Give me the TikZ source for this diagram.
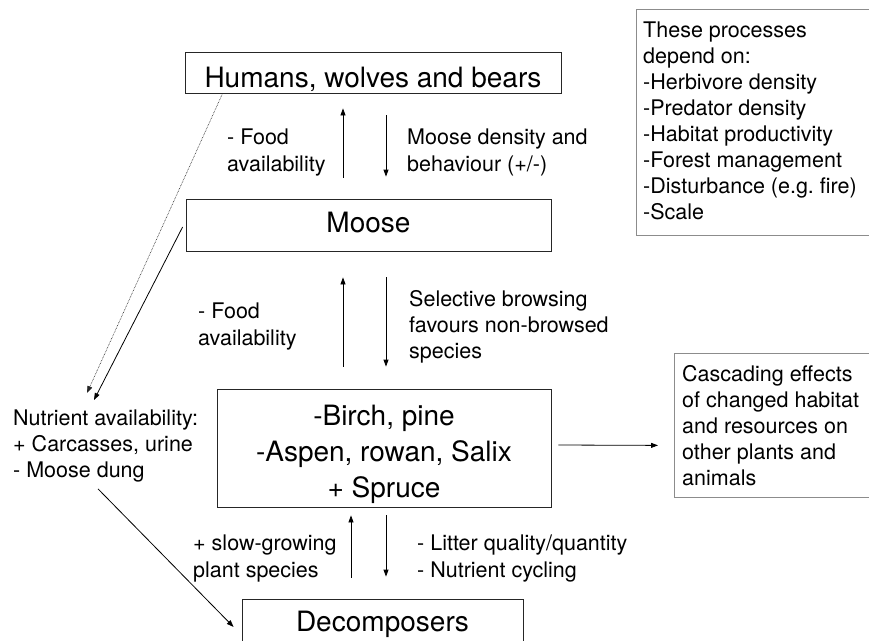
\documentclass[tikz,border=0pt]{standalone}
\usepackage{fontspec}
\setmainfont{TeX Gyre Heros}
\usetikzlibrary{arrows.meta}
\begin{document}
\begin{tikzpicture}[x=1pt,y=-1pt,
  mainbox/.style={draw=black!85, line width=0.8pt, inner sep=0pt, font=\fontsize{28}{36}\selectfont, align=center},
  grayframe/.style={draw=black!45, line width=0.8pt},
  lbl/.style={inner sep=0pt, font=\fontsize{21.5}{26.3}\selectfont, align=left, anchor=north west},
  boxtext/.style={lbl, font=\fontsize{21.5}{26}\selectfont},
  arr/.style={line width=0.8pt, -{Triangle[length=7pt,width=5pt]}},
  dotarr/.style={line width=0.6pt, draw=black!85, dash pattern=on 0.7pt off 0.9pt, -{Triangle[length=7pt,width=5pt]}},
]
\useasboundingbox (0,0) rectangle (869,640);
\clip (0,0) rectangle (869,640);

\node[mainbox, minimum width=376pt, minimum height=41pt, text height=29pt, text depth=0pt] (hum) at (373,72.5) {Humans, wolves and bears};
\node[mainbox, minimum width=365pt, minimum height=52pt, text height=14pt, text depth=0pt] (moose) at (368.5,225) {Moose};
\node[mainbox, minimum width=334pt, minimum height=118pt] (birch) at (384,448) {\rule{0pt}{34pt}-Birch, pine\\-Aspen, rowan, Salix\\+ Spruce};
\node[mainbox, minimum width=281pt, minimum height=48pt, text height=17pt, text depth=0pt] (dec) at (382.5,623) {Decomposers};

\draw[grayframe] (870,9) -- (636,9) -- (636,235) -- (870,235);
\node[boxtext] (proc) at (643,22) {These processes\\depend on:\\-Herbivore density\\-Predator density\\-Habitat productivity\\-Forest management\\-Disturbance (e.g.\ fire)\\-Scale};
\draw[grayframe] (870,353) -- (674,353) -- (674,497) -- (870,497);
\node[boxtext] (casc) at (682,365) {Cascading effects\\of changed habitat\\and resources on\\other plants and\\animals};

\node[lbl] (fa1) at (227,129) {- Food\\availability};
\node[lbl] (md) at (407,129) {Moose density and\\behaviour (+/-)};
\node[lbl] (fa2) at (198,303) {- Food\\availability};
\node[lbl] (sb) at (409,290) {Selective browsing\\favours non-browsed\\species};
\node[lbl] (nut) at (13,409.5) {Nutrient availability:\\+ Carcasses, urine\\- Moose dung};
\node[lbl] (sg) at (193,535) {+ slow-growing\\plant species};
\node[lbl] (lq) at (417,535) {- Litter quality/quantity\\- Nutrient cycling};

\draw[arr] ([shift={(-25.5,-21)}]moose.north) -- ([shift={(-30,15)}]hum.south);
\draw[arr] ([shift={(13,22)}]hum.south) -- ([shift={(17.5,-22)}]moose.north);
\draw[arr] ([shift={(-41,-22)}]birch.north) -- ([shift={(-25.5,26)}]moose.south);
\draw[arr] ([shift={(17.5,26)}]moose.south) -- ([shift={(2,-22)}]birch.north);
\draw[arr] ([shift={(-31.5,-21)}]dec.north) -- ([shift={(-33,8)}]birch.south);
\draw[arr] ([shift={(2,8)}]birch.south) -- ([shift={(3.5,-22)}]dec.north);
\draw[arr] ([shift={(7,-3)}]birch.east) -- ([shift={(-24,20)}]casc.west);

\draw[dotarr] ([shift={(38,0)}]hum.south west) -- ([shift={(74,-16.5)}]nut.north west);
\draw[arr] ([shift={(-3,2)}]moose.west) -- ([shift={(81,-9.5)}]nut.north west);
\draw[arr] ([shift={(85,6)}]nut.south west) -- ([shift={(-8,4)}]dec.west);
\end{tikzpicture}
\end{document}
